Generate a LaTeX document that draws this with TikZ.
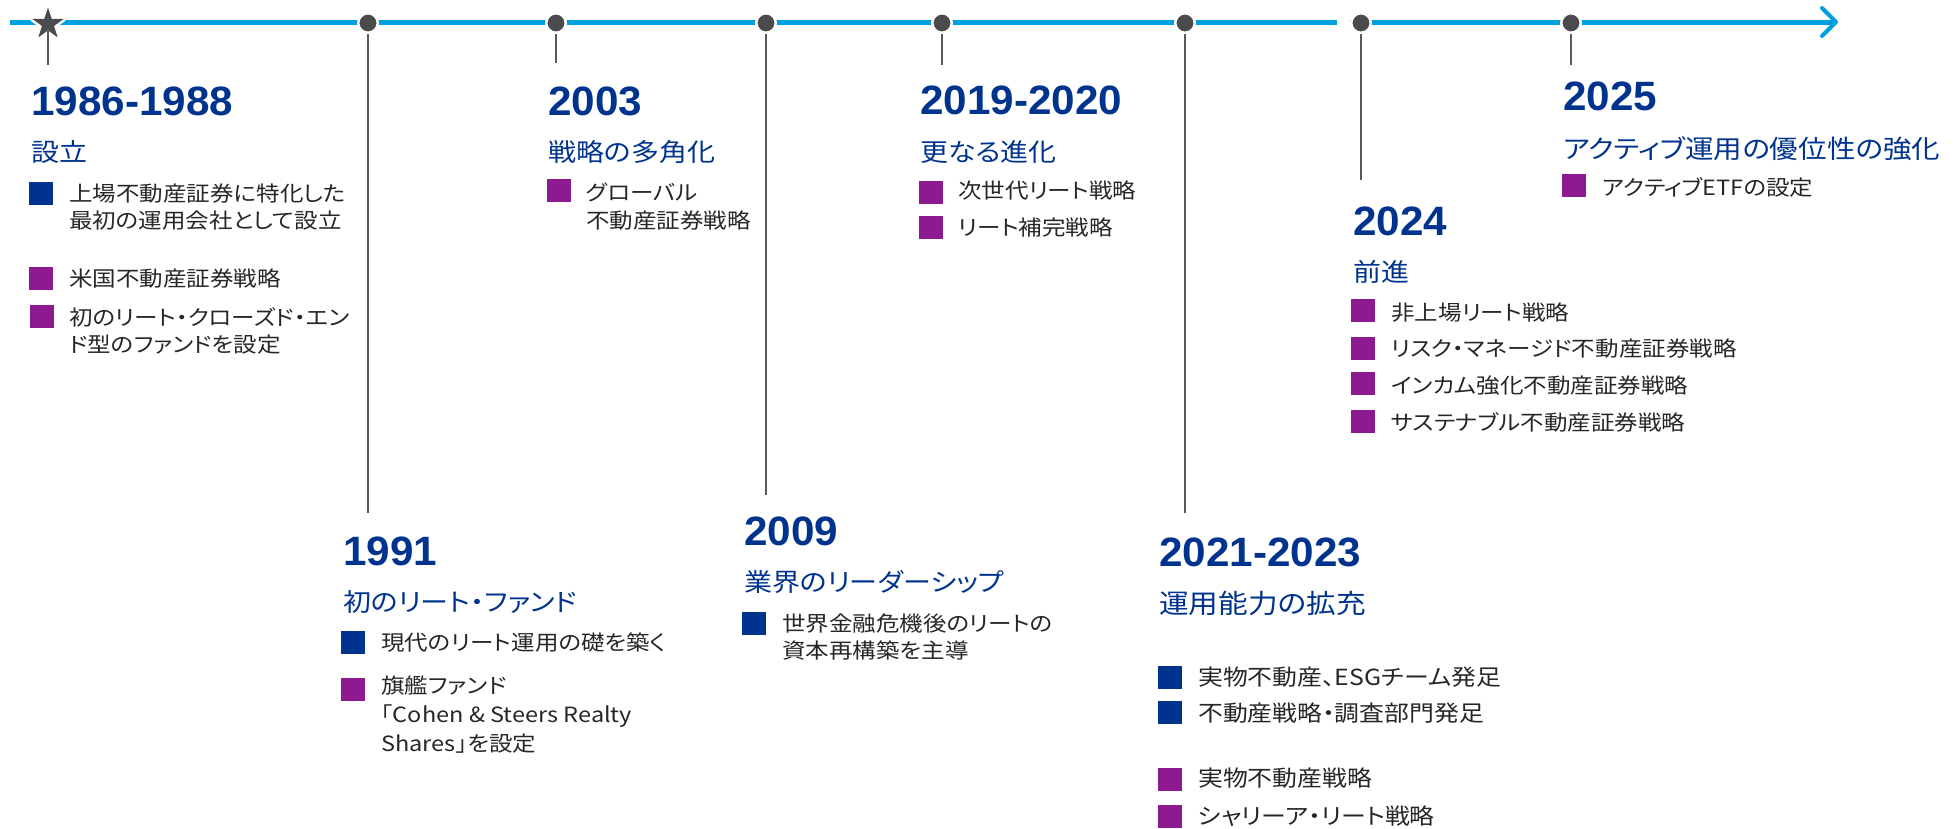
\documentclass[tikz,border=0pt]{standalone}
\usepackage{fontspec}
\setmainfont{Liberation Sans}
\newfontfamily\jp[FakeStretch=1.12,RawFeature=+palt]{Noto Sans CJK JP}
\newfontfamily\yrfont[FakeStretch=1.03]{Liberation Sans}
\usetikzlibrary{shapes.geometric}
\definecolor{ttblue}{RGB}{0,51,141}
\definecolor{sqblue}{RGB}{0,51,141}
\definecolor{sqpurple}{RGB}{141,27,143}
\definecolor{tlcyan}{RGB}{0,160,224}
\definecolor{dotgray}{RGB}{75,75,77}
\definecolor{linegray}{RGB}{90,90,90}
\definecolor{txt}{RGB}{38,38,38}
\tikzset{
  yearlbl/.style={anchor=base west, inner sep=0, text=ttblue, font=\yrfont\bfseries\fontsize{41}{41}\selectfont},
  sublbl/.style={anchor=base west, inner sep=0, text=ttblue, font=\jp\fontsize{25}{25}\selectfont},
  itemlbl/.style={anchor=base west, inner sep=0, text=txt, font=\jp\fontsize{21}{21}\selectfont},
  bigitem/.style={itemlbl, font=\jp\fontsize{22.2}{22.2}\selectfont},
  bsq/.style={anchor=north west, inner sep=0, minimum width=24, minimum height=23, fill=sqblue},
  psq/.style={anchor=north west, inner sep=0, minimum width=24, minimum height=23, fill=sqpurple},
  dotn/.style={circle, fill=dotgray, draw=white, line width=2.5, inner sep=0, minimum size=19.5},
  starn/.style={star, star points=5, star point ratio=2.6, fill=dotgray, preaction={draw=white, line width=5, line join=round}, inner sep=0, minimum size=33},
  vline/.style={draw=linegray, line width=1.4},
  tline/.style={draw=tlcyan, line width=5},
  tarrow/.style={draw=tlcyan, line width=4, line cap=round, line join=round},
}
\begin{document}
\begin{tikzpicture}[x=1pt,y=-1pt]
\useasboundingbox (0,0) rectangle (1957,828);
% timeline
\coordinate (tl0) at (10,22);
\coordinate (tlA) at (1337,22);
\coordinate (tlB) at (1350,22);
\coordinate (tlEnd) at (1833,22);
\coordinate (tlTip) at (1836,22);
\coordinate (chv1) at (1822,8);
\coordinate (chv2) at (1822,36);
\draw[tline] (tl0) -- (tlA);
\draw[tline] (tlB) -- (tlEnd);
\draw[tarrow] (chv1) -- (tlTip) -- (chv2);
% line ends
\coordinate (eA) at (48,65);
\coordinate (eB) at (368,513);
\coordinate (eC) at (556,63);
\coordinate (eD) at (766,495);
\coordinate (eE) at (942,65);
\coordinate (eF) at (1185,513);
\coordinate (eG) at (1361,180);
\coordinate (eH) at (1571,65);
% markers
\node[starn] (sA) at (48,24) {};
\node[dotn] (dB) at (368,23) {};
\node[dotn] (dC) at (556,23) {};
\node[dotn] (dD) at (766,23) {};
\node[dotn] (dE) at (942,23) {};
\node[dotn] (dF) at (1185,23) {};
\node[dotn] (dG) at (1361,23) {};
\node[dotn] (dH) at (1571,23) {};
\draw[vline] (sA) -- (eA);
\draw[vline] (dB) -- (eB);
\draw[vline] (dC) -- (eC);
\draw[vline] (dD) -- (eD);
\draw[vline] (dE) -- (eE);
\draw[vline] (dF) -- (eF);
\draw[vline] (dG) -- (eG);
\draw[vline] (dH) -- (eH);
% Block A 1986-1988
\node[yearlbl] (yA) at (31,115) {1986-1988};
\node[sublbl] (tA) at (31,161) {設立};
\node[bsq] (qA1) at (29,182) {};
\node[itemlbl] (iA1a) at (69,201.5) {上場不動産証券に特化した};
\node[itemlbl] (iA1b) at (69,228.5) {最初の運用会社として設立};
\node[psq] (qA2) at (29,267) {};
\node[itemlbl] (iA2) at (69,286.5) {米国不動産証券戦略};
\node[psq] (qA3) at (30,305) {};
\node[itemlbl] (iA3a) at (69,325.5) {初のリート・クローズド・エン};
\node[itemlbl] (iA3b) at (69,352.5) {ド型のファンドを設定};
% Block B 1991
\node[yearlbl] (yB) at (343,565) {1991};
\node[sublbl] (tB) at (343,611) {初のリート・ファンド};
\node[bsq] (qB1) at (341,631) {};
\node[itemlbl] (iB1) at (381,650.5) {現代のリート運用の礎を築く};
\node[psq] (qB2) at (341,678) {};
\node[itemlbl] (iB2a) at (381,693.5) {旗艦ファンド};
\node[itemlbl] (iB2b) at (381,722.5) {「Cohen \& Steers Realty};
\node[itemlbl] (iB2c) at (381,751.5) {Shares」を設定};
% Block C 2003
\node[yearlbl] (yC) at (548,115) {2003};
\node[sublbl] (tC) at (548,161) {戦略の多角化};
\node[psq] (qC1) at (547,179) {};
\node[itemlbl] (iC1a) at (586,200.5) {グローバル};
\node[itemlbl] (iC1b) at (586,228.5) {不動産証券戦略};
% Block D 2009
\node[yearlbl] (yD) at (744,545) {2009};
\node[sublbl] (tD) at (744,591) {業界のリーダーシップ};
\node[bsq] (qD1) at (742,612) {};
\node[itemlbl] (iD1a) at (782,631.5) {世界金融危機後のリートの};
\node[itemlbl] (iD1b) at (782,658.5) {資本再構築を主導};
% Block E 2019-2020
\node[yearlbl] (yE) at (920,114) {2019-2020};
\node[sublbl] (tE) at (920,161) {更なる進化};
\node[psq] (qE1) at (919,181) {};
\node[itemlbl] (iE1) at (958,198.5) {次世代リート戦略};
\node[psq] (qE2) at (919,216) {};
\node[itemlbl] (iE2) at (958,235.5) {リート補完戦略};
% Block F 2021-2023
\node[yearlbl] (yF) at (1159,566) {2021-2023};
\node[sublbl, font=\jp\fontsize{26.5}{26.5}\selectfont] (tF) at (1159,613) {運用能力の拡充};
\node[bsq] (qF1) at (1158,666) {};
\node[bigitem] (iF1) at (1198,685.5) {実物不動産、ESGチーム発足};
\node[bsq] (qF2) at (1158,701) {};
\node[bigitem] (iF2) at (1198,721.5) {不動産戦略・調査部門発足};
\node[psq] (qF3) at (1158,768) {};
\node[bigitem] (iF3) at (1198,786.5) {実物不動産戦略};
\node[psq] (qF4) at (1158,805) {};
\node[bigitem] (iF4) at (1198,824.5) {シャリーア・リート戦略};
% Block G 2024
\node[yearlbl] (yG) at (1353,235) {2024};
\node[sublbl] (tG) at (1353,281) {前進};
\node[psq] (qG1) at (1351,299) {};
\node[itemlbl] (iG1) at (1391,320.5) {非上場リート戦略};
\node[psq] (qG2) at (1351,337) {};
\node[itemlbl] (iG2) at (1391,356.5) {リスク・マネージド不動産証券戦略};
\node[psq] (qG3) at (1351,372) {};
\node[itemlbl] (iG3) at (1391,393.5) {インカム強化不動産証券戦略};
\node[psq] (qG4) at (1351,410) {};
\node[itemlbl] (iG4) at (1391,430.5) {サステナブル不動産証券戦略};
% Block H 2025
\node[yearlbl] (yH) at (1563,110) {2025};
\node[sublbl, font=\jp\fontsize{25.5}{25.5}\selectfont] (tH) at (1563,158) {アクティブ運用の優位性の強化};
\node[psq] (qH1) at (1562,174) {};
\node[itemlbl] (iH1) at (1602,195.5) {アクティブETFの設定};
\end{tikzpicture}
\end{document}
